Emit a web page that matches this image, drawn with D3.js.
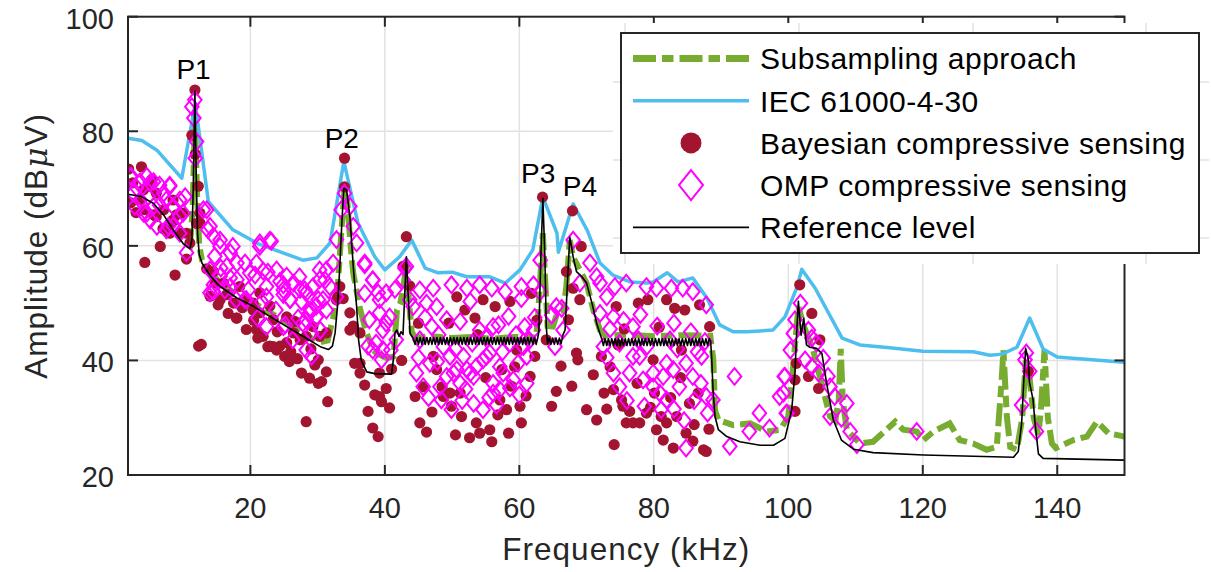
<!DOCTYPE html>
<html>
<head>
<meta charset="utf-8">
<script src="https://cdn.jsdelivr.net/npm/d3@7"></script>
<style>
body { margin: 0; background: #fff; }
svg { font-family: "Liberation Sans", Arial, sans-serif; }
</style>
</head>
<body>
<div id="root"></div>
<script>
const width = 1211;
const height = 572;

const xTicks = [20, 40, 60, 80, 100, 120, 140];
const yTicks = [20, 40, 60, 80, 100];

// IEC 61000-4-30 grouped spectrum
const iecSpectrum = [[1.8,78.8],[3.85,78.4],[6.1,76.7],[9.8,71.8],[11.8,84.9],[13.75,67.7],[17.4,62.8],[21.1,60.4],[27.8,57.5],[29.9,57.9],[31.85,60.5],[33.9,74.7],[36.0,64.0],[38.5,58.1],[40.0,55.8],[42.2,58.1],[44.0,61.0],[46.0,56.1],[47.9,55.3],[50.0,55.4],[52.2,54.6],[55.6,54.6],[57.9,53.5],[60.1,55.8],[62.0,59.3],[63.5,68.5],[65.6,62.2],[65.8,58.9],[68.0,67.3],[70.1,62.7],[72.0,57.0],[73.9,54.9],[76.5,53.7],[79.0,53.5],[79.9,53.7],[82.0,55.3],[83.6,53.7],[85.8,54.4],[87.9,50.9],[89.8,46.2],[91.8,45.0],[93.85,45.0],[97.7,45.3],[99.5,47.6],[101.3,52.8],[102.0,55.9],[104.0,52.6],[108.0,43.9],[110.65,42.7],[115.1,42.2],[120.0,41.6],[127.5,41.5],[130.0,40.9],[131.8,41.1],[134.0,42.3],[135.9,47.4],[137.9,42.0],[140.0,40.6],[142.3,40.4],[150,39.7]];

// Subsampling approach
const subsampling = [[10.3,60.5],[11.0,60],[11.4,66],[11.75,82],[12.1,68],[12.4,60],[12.8,57.5],[14,55.5],[15.5,53.5],[18,51.5],[20.5,50],[23,48.3],[25.5,46.5],[28.4,44.2],[30.4,43.2],[31.5,43.5],[32.4,47.9],[33.0,52.9],[33.5,62],[34.0,70],[34.4,68],[34.9,60],[35.3,55.2],[36.3,49],[37.3,44.7],[38.3,41.8],[38.8,41.2],[40.3,40.4],[41.3,40.7],[41.8,48.8],[42.3,50],[42.8,53],[43.2,57.5],[43.6,50],[44.0,45],[44.5,44.0],[47,44.2],[50,43.9],[53,44.1],[56,43.8],[59,44.1],[62.5,44.0],[62.8,48.2],[63.2,56],[63.5,62.2],[63.8,55],[64.2,46],[65.0,45.9],[65.6,48.2],[66.55,48.8],[67.0,53],[67.5,61],[68.0,58],[69.0,55.8],[70.0,53.5],[71.0,48.8],[72.0,45.3],[72.8,44.3],[76,44.5],[80,44.2],[84,44.4],[88.4,44.3],[88.85,40.1],[89.1,31.3],[89.6,29.6],[91.8,28.7],[94.3,29.0],[96.8,27.6],[98.8,27.9],[100.0,30.2],[100.8,40],[101.5,49.4],[102.3,46],[103.7,41.8],[105.2,34.8],[106.2,30.2],[107.0,29.5],[107.5,33],[107.8,42],[108.1,33],[108.7,27.9],[110.65,25.5],[112.6,25.8],[114.6,27.9],[115.9,29.3],[117.1,27.9],[119.1,27.6],[120.1,26.1],[121.6,27.6],[124.0,29.0],[125.5,26.1],[127.5,25.5],[129.5,24.4],[131.0,24.9],[131.7,36.0],[132.0,41.8],[132.5,30.2],[133.0,24.9],[134.0,24.4],[134.8,30],[135.3,40],[135.8,38],[136.5,30],[137.2,27],[137.6,32],[138.1,41.8],[138.6,30],[139.2,25.5],[139.8,24.7],[142.4,26.1],[144.4,26.7],[145.9,29.3],[147.6,27.3],[150,26.7]];

// Reference level
const referenceLevel = [[1.8,69.0],[3.8,68.6],[5.6,67.4],[7.1,65.4],[8.5,62.8],[10.0,60.4],[11.0,59.5],[11.3,61],[11.5,70],[11.75,87.0],[11.95,72],[12.15,62],[12.4,58.5],[12.8,57.0],[14,54.8],[15.5,52.9],[18,50.9],[20.5,49.4],[23,47.6],[25.4,45.9],[28,44.1],[30.4,42.4],[31.6,41.9],[32.2,42.5],[32.6,44.8],[33.0,50],[33.3,56.4],[33.6,64],[33.9,70.0],[34.3,69.8],[34.8,65.1],[35.3,56.4],[35.8,49.4],[36.1,43.5],[36.5,40.0],[37.3,38.0],[38.5,37.7],[41.0,37.6],[41.3,40.5],[41.5,44.8],[41.8,45.3],[42.1,44.2],[42.4,45.0],[42.7,44.5],[42.9,50],[43.2,58.1],[43.45,52],[43.75,44.7],[44.2,43.9],
  [44.5,42.8],[44.75,44.0],[45,42.8],[45.25,44.0],[45.5,42.8],[45.75,44.0],[46,42.8],[46.25,44.0],[46.5,42.8],[46.75,44.0],[47,42.8],[47.25,44.0],[47.5,42.8],[47.75,44.0],[48,42.8],[48.25,44.0],[48.5,42.8],[48.75,44.0],[49,42.8],[49.25,44.0],[49.5,42.8],[49.75,44.0],[50,42.8],[50.25,44.0],[50.5,42.8],[50.75,44.0],[51,42.8],[51.25,44.0],[51.5,42.8],[51.75,44.0],[52,42.8],[52.25,44.0],[52.5,42.8],[52.75,44.0],[53,42.8],[53.25,44.0],[53.5,42.8],[53.75,44.0],[54,42.8],[54.25,44.0],[54.5,42.8],[54.75,44.0],[55,42.8],[55.25,44.0],[55.5,42.8],[55.75,44.0],[56,42.8],[56.25,44.0],[56.5,42.8],[56.75,44.0],[57,42.8],[57.25,44.0],[57.5,42.8],[57.75,44.0],[58,42.8],[58.25,44.0],[58.5,42.8],[58.75,44.0],[59,42.8],[59.25,44.0],[59.5,42.8],[59.75,44.0],[60,42.8],[60.25,44.0],[60.5,42.8],[60.75,44.0],[61,42.8],[61.25,44.0],[61.5,42.8],[61.75,44.0],[62,42.8],[62.25,44.0],[62.5,42.8],[62.75,44.0],
  [62.9,45],[63.2,58],[63.5,68.3],[63.8,58],[64.0,46],[64.2,42.9],[64.45,43.9],[64.7,42.8],[64.95,43.9],[65.2,42.8],[65.45,43.9],[65.7,42.8],[65.95,43.9],[66.2,42.9],[66.5,44.5],[66.8,45.3],[67.05,51.1],[67.3,57],[67.5,61.5],[67.75,60],[68.0,58.1],[68.5,55.5],[69.3,54.6],[70.0,53.5],[70.8,50.0],[71.5,46.5],[72.0,44.6],
  [72.25,43.8],[72.5,42.6],[72.75,43.8],[73,42.6],[73.25,43.8],[73.5,42.6],[73.75,43.8],[74,42.6],[74.25,43.8],[74.5,42.6],[74.75,43.8],[75,42.6],[75.25,43.8],[75.5,42.6],[75.75,43.8],[76,42.6],[76.25,43.8],[76.5,42.6],[76.75,43.8],[77,42.6],[77.25,43.8],[77.5,42.6],[77.75,43.8],[78,42.6],[78.25,43.8],[78.5,42.6],[78.75,43.8],[79,42.6],[79.25,43.8],[79.5,42.6],[79.75,43.8],[80,42.6],[80.25,43.8],[80.5,42.6],[80.75,43.8],[81,42.6],[81.25,43.8],[81.5,42.6],[81.75,43.8],[82,42.6],[82.25,43.8],[82.5,42.6],[82.75,43.8],[83,42.6],[83.25,43.8],[83.5,42.6],[83.75,43.8],[84,42.6],[84.25,43.8],[84.5,42.6],[84.75,43.8],[85,42.6],[85.25,43.8],[85.5,42.6],[85.75,43.8],[86,42.6],[86.25,43.8],[86.5,42.6],[86.75,43.8],[87,42.6],[87.25,43.8],[87.5,42.6],[87.75,43.8],[88,42.6],[88.25,43.8],
  [88.45,43.3],[88.6,40.6],[88.8,35],[89.1,30.2],[89.6,27.9],[90.85,26.7],[92.8,25.8],[95.8,25.2],[97.8,25.2],[99.5,26.4],[100.5,31.3],[101.0,38],[101.25,45],[101.5,50.3],[101.9,44.4],[102.3,47.4],[102.7,42.7],[103.2,42.3],[104.2,42.1],[105.0,41.2],[105.7,36.0],[106.7,29.6],[107.9,26.1],[109.7,24.5],[112.6,23.9],[120.1,23.5],[133.5,23.1],[134.2,24.1],[134.7,29.0],[135.0,36],[135.3,42.1],[135.7,40.1],[135.85,36.3],[136.2,34.3],[136.4,33.1],[136.7,29.0],[137.2,23.7],[137.9,22.9],[150,22.6]];

// Bayesian compressive sensing estimates
const bayesianCS = [[1.9,73.4],[3.8,73.8],[5.3,71.5],[4.1,69.8],[6.0,69.2],[8.5,68.0],[6.0,65.1],[8.5,64.5],[10.0,65.7],[10.5,62.2],[12.0,63.9],[11.3,79.3],[11.75,87.2],[12.5,65.7],[5.1,70.4],[3.6,68.1],[7.1,66.3],[4.3,66.3],[5.6,65.4],[9.0,65.4],[8.3,64.0],[9.5,62.2],[8.0,62.2],[6.6,59.9],[4.3,57.1],[8.8,54.9],[10.5,57.7],[12.25,70.4],[12.5,64.0],[12.3,42.5],[12.7,42.8],[2.5,71.0],[7.0,63.0],[11.0,60.5],[11.8,76.0],[2.2,67.5],[3.0,65.8],
  [14.0,51.2],[15.5,50.6],[17.5,50.0],[18.4,52.9],[19.4,50.6],[20.4,50.0],[21.4,48.3],[22.9,49.5],[23.4,47.1],[21.4,51.8],[18.0,47.4],[19.4,45.4],[20.9,45.4],[21.9,44.2],[22.9,42.5],[24.4,42.5],[25.4,43.1],[26.4,44.8],[27.4,43.6],[28.3,44.2],[29.3,45.9],[30.3,44.2],[31.3,44.8],[32.8,50.6],[33.3,52.9],[15.2,49.7],[16.7,48.2],[17.9,47.4],[21.1,43.9],[22.6,42.4],[23.4,42.4],[23.9,41.8],[20.4,48.8],[25.1,40.7],[25.8,39.8],[25.4,47.6],[26.6,46.8],[27.6,37.8],[28.8,36.9],[28.3,29.3],[30.1,36.0],[30.6,36.3],[31.3,38.0],[31.5,32.8],[29.6,39.2],[30.1,40.1],[13.5,56],[14.5,55.5],[16,53.5],
  [14.8,53.5],[16.5,51.5],[18.8,49.2],[20.5,47.0],[24.0,45.0],[26.0,41.5],[27.0,40.3],[29.0,42.0],
  [34.0,75.3],[34.0,70.3],[34.8,48.3],[35.3,46.0],[36.3,44.8],[33.0,51.1],[33.8,50.8],[34.8,45.3],[35.5,39.5],[36.3,39.5],[36.3,37.8],[37.0,35.7],[37.5,31.1],[38.2,28.2],[39.0,26.7],[38.5,34.0],[39.2,33.7],[39.5,32.8],[40.2,35.1],[40.7,31.7],[39.2,37.8],[43.2,61.6],[42.7,56.4],[43.7,53.0],[41.0,38.5],[42.5,40],
  [44.5,33.7],[45.2,29.1],[45.7,35.4],[47.2,40.7],[47.7,38.4],[48.5,35.4],[48.7,33.7],[49.7,34.3],[49.9,32.0],[51.2,34.3],[51.4,30.2],[50.7,51.1],[51.9,48.8],[53.4,47.4],[54.6,50.6],[56.4,49.4],[58.6,50.3],[53.6,29.1],[54.1,27.3],[55.6,27.9],[55.9,25.8],[57.1,33.1],[57.4,38.4],[58.1,31.4],[58.4,27.3],[59.3,38.9],[59.6,41.8],[60.1,32.0],[60.3,29.1],[61.6,37.2],[61.8,51.7],[62.3,40.7],[63.45,68.5],
  [46.2,27.5],[47.0,31.0],[50.5,27.0],[52.6,26.5],[55.0,37.0],[56.8,30.5],[58.8,35.5],[61.0,33.8],[62.6,47.0],[45.0,46.5],[49.5,46.5],[53.8,44.5],
  [64.0,43.6],[64.8,32.0],[65.5,34.6],[67.0,55.5],[67.3,47.1],[67.9,66.1],[68.0,52.6],[68.5,41.3],[68.7,40.1],[69.0,50.6],[69.2,59.9],[70.0,31.4],[71.5,29.6],[72.2,40.7],[72.6,34.3],[73.5,38.9],[74.0,34.9],[74.1,25.3],[74.4,49.4],[74.7,42.7],[75.2,33.1],[75.4,32.0],[75.9,29.1],[76.4,31.1],[76.9,29.1],[77.7,50.0],[77.9,29.1],[78.9,30.8],[79.1,50.6],[79.9,40.1],[80.1,34.3],[80.4,27.9],[81.1,30.2],[81.4,26.1],[81.9,50.6],[81.9,29.1],[82.9,24.7],[83.1,49.1],[83.4,30.2],[84.1,41.8],[84.6,48.8],[84.8,27.3],[85.3,32.5],[85.8,25.9],[86.6,34.3],[86.8,49.7],[87.4,24.4],[87.8,24.1],[88.3,45.9],
  [66.2,39.0],[67.8,35.5],[71.0,37.5],[73.0,31.5],[77.5,36.0],[79.5,31.8],[82.5,33.5],[84.0,37.0],[86.0,28.8],[88.2,28.0],[75.6,45.5],[80.8,45.8],
  [101.7,53.2],[103.5,48.2],[104.7,43.6],[101.2,39.5],[103.0,37.2],[104.5,35.1],[101.0,31.1],[101.0,36.6],[135.7,38.1]];

// OMP compressive sensing estimates
const ompCS = [[2.3,72.1],[3.6,71.2],[4.6,72.1],[5.6,71.2],[6.5,70.6],[8.0,70.6],[2.6,69.2],[3.6,68.0],[4.8,68.6],[5.6,66.9],[6.5,67.1],[7.5,68.0],[8.5,66.9],[9.5,68.0],[10.0,65.7],[4.1,65.7],[5.1,64.5],[6.1,63.4],[7.5,62.8],[8.5,63.4],[9.5,62.2],[10.3,68.6],[13.0,66.3],[13.7,62.8],[15.5,61.0],[17.4,59.9],[21.4,60.5],[22.9,61.0],[11.74,85.5],[11.6,82.3],[12.0,78.2],
  [2.1,72.1],[3.1,70.1],[5.1,71.0],[8.0,70.4],[7.1,69.2],[2.8,66.9],[4.6,65.7],[7.8,63.4],[9.5,65.2],[10.5,58.8],[11.3,84.3],[11.8,75.3],[13.5,66.3],[14.0,63.4],[14.5,61.7],[15.5,59.9],[14.7,58.2],[17.0,58.8],[18.0,57.0],[19.2,57.0],[14.0,51.8],[15.5,54.7],[16.5,56.4],[17.0,52.9],[18.0,54.1],[19.9,55.3],[21.4,59.9],[23.1,60.8],[20.9,57.0],[21.9,55.6],[22.4,52.9],[23.9,55.8],[24.4,53.8],[25.4,54.7],[26.4,53.5],[27.4,52.4],[25.9,50.6],[24.9,51.5],[27.6,50.3],[28.3,51.8],[29.3,52.9],[30.3,54.1],[31.3,55.8],[31.8,52.9],[30.8,50.6],[29.8,49.5],[28.8,48.3],[28.3,47.1],[29.1,44.8],[32.8,61.1],[33.5,66.3],[34.0,69.2],[34.8,66.9],[35.3,63.4],[35.8,60.5],[37.0,57.0],[38.2,54.1],[39.0,51.8],[40.2,51.8],[41.5,52.4],[42.7,54.1],[43.7,50.6],[43.2,56.4],[39.2,48.3],[40.2,46.5],[37.5,42.5],[39.7,41.9],
  [14.0,55.8],[14.5,53.2],[15.6,56.1],[16.2,52.3],[17.0,54.4],[17.9,50.6],[19.7,52.3],[20.7,54.9],[21.7,50.2],[22.6,55.4],[23.8,48.8],[24.9,53.2],[25.9,50.6],[27.1,47.4],[28.1,52.3],[28.9,48.8],[30.1,50.6],[31.1,54.0],[19.2,50.6],[21.1,47.4],[25.2,46.2],[30.4,45.3],
  [14.5,52.0],[19.4,50.6],[22.4,51.1],[24.9,52.3],[27.3,54.6],[30.3,55.8],[32.3,57.0],[29.1,40.7],[28.3,41.8],[27.8,46.5],[29.8,47.6],[31.3,48.8],[26.3,43.6],[24.9,45.9],[22.4,45.9],[32.8,51.1],[37.0,56.7],[38.2,54.0],[37.0,51.7],[39.2,50.6],[37.7,47.1],[39.7,45.3],[38.7,43.0],[38.2,41.8],[39.5,40.1],[40.9,41.8],[41.7,43.6],[40.7,47.6],
  [43.0,56.1],[45.2,52.3],[47.2,52.6],[49.9,53.2],[52.2,52.6],[54.1,53.2],[55.9,52.6],[57.9,52.0],[60.3,52.9],[62.1,53.2],[44.2,49.4],[46.2,50.0],[47.7,49.4],[49.2,47.1],[51.2,46.8],[52.7,50.3],[54.1,45.3],[56.1,45.9],[56.9,46.2],[58.4,47.7],[60.3,50.8],[60.8,45.9],[62.1,45.3],[45.2,43.6],[47.0,45.9],[48.7,42.4],[49.7,40.7],[50.7,38.4],[51.7,40.7],[52.2,38.4],[53.2,37.2],[54.6,40.1],[55.6,41.3],[57.1,38.9],[58.6,43.0],[60.6,42.4],[61.1,40.7],[44.7,37.8],[45.7,35.4],[46.7,39.5],[48.2,35.4],[49.2,37.2],[50.2,37.8],[51.2,36.0],[52.7,37.8],[53.6,38.9],[55.1,40.7],[56.1,36.0],[57.1,34.9],[57.6,37.8],[59.1,36.6],[61.1,36.0],[48.4,33.1],[49.9,31.4],[53.2,32.5],[54.6,31.4],[56.1,34.3],[58.6,35.2],
  [46.0,47.5],[48.0,44.5],[50.5,42.0],[53.0,43.0],[55.0,44.0],[57.5,41.5],[59.5,44.5],[61.5,43.5],[46.5,33.5],[51.5,33.0],[55.5,33.5],[59.8,39.5],[47.8,39.8],[52.0,35.0],[56.6,32.2],[60.0,34.0],[45.0,40.5],[62.3,47.5],
  [63.1,52.0],[63.1,57.5],[64.8,47.9],[65.5,49.4],[66.3,49.1],[65.3,42.4],[66.5,45.3],[68.0,61.0],[69.0,53.5],[70.5,57.0],[71.5,54.6],[72.0,53.5],[72.0,48.2],[73.0,51.1],[74.0,47.6],[74.2,52.9],[75.9,53.5],[78.9,52.9],[80.4,52.6],[82.6,52.6],[84.3,52.6],[85.8,52.0],[87.8,49.7],[72.5,42.4],[74.9,43.0],[76.9,45.9],[77.7,43.6],[76.9,40.7],[77.9,40.7],[74.0,37.8],[74.9,35.4],[76.4,37.8],[78.4,36.6],[79.9,37.8],[81.4,37.2],[81.9,39.5],[82.9,38.4],[83.8,35.4],[84.8,39.5],[85.8,37.2],[79.9,35.4],[80.9,34.3],[81.9,33.1],[81.1,31.4],[82.4,43.6],[87.1,40.7],[87.6,43.3],[87.8,33.7],[88.8,33.1],[88.0,30.8],[92.0,37.2],[94.2,27.6],[91.3,25.0],[84.8,24.7],
  [73.5,45.5],[75.5,47.0],[78.0,48.0],[80.5,46.0],[83.0,46.5],[85.5,45.0],[86.5,41.5],[79.0,42.5],[83.5,42.0],[76.0,33.0],[78.6,32.0],[83.0,31.5],[86.0,33.0],[84.5,29.5],[87.0,36.0],[73.0,40.5],
  [95.7,30.8],[97.2,28.2],[99.4,37.2],[98.7,33.7],[99.7,30.8],
  [101.8,50.0],[101.0,47.1],[100.75,44.7],[103.0,45.3],[103.5,43.9],[104.2,43.0],[105.2,40.4],[100.3,41.8],[99.5,37.2],[99.3,34.3],[99.8,30.8],[102.5,40.1],[103.5,38.9],[104.5,37.8],[105.9,37.2],[106.2,35.4],[106.9,33.7],[108.7,32.5],[106.2,30.2],[107.9,29.9],[109.2,27.6],[110.2,25.3],[119.1,27.6],[135.4,41.3],[135.2,40.1],[135.9,38.1],[134.7,32.2],[136.9,27.6]];

const peakLabels = [
    {name: 'P1', f: 11.55, a: 89.1},
    {name: 'P2', f: 33.6, a: 77.1},
    {name: 'P3', f: 62.8, a: 71.0},
    {name: 'P4', f: 69.0, a: 68.7}
];

const legendItems = ['Subsampling approach', 'IEC 61000-4-30', 'Bayesian compressive sensing', 'OMP compressive sensing', 'Reference level'];

const GREEN = '#77AC30';
const BLUE = '#4DBEEE';
const RED = '#A2142F';
const MAGENTA = '#FF00FF';
const AXIS = '#262626';
const GRID = '#e2e2e2';

const plot = {left: 128, right: 1124.5, top: 16.7, bottom: 475};

const x = d3.scaleLinear().domain([1.8, 150]).range([plot.left, plot.right]);
const y = d3.scaleLinear().domain([20, 100]).range([plot.bottom, plot.top]);

const svg = d3.select('#root')
    .append('svg')
    .attr('width', width)
    .attr('height', height);

svg.append('defs').append('clipPath')
    .attr('id', 'plot-clip')
    .append('rect')
    .attr('x', plot.left)
    .attr('y', plot.top)
    .attr('width', plot.right - plot.left)
    .attr('height', plot.bottom - plot.top);

// grid
const grid = svg.append('g');
grid.selectAll('.gx')
    .data(xTicks)
    .join('line')
    .attr('x1', d => x(d)).attr('x2', d => x(d))
    .attr('y1', plot.top).attr('y2', plot.bottom)
    .attr('stroke', GRID).attr('stroke-width', 1.5);
grid.selectAll('.gy')
    .data(yTicks.slice(1, -1))
    .join('line')
    .attr('y1', d => y(d)).attr('y2', d => y(d))
    .attr('x1', plot.left).attr('x2', plot.right)
    .attr('stroke', GRID).attr('stroke-width', 1.5);

const line = d3.line().x(d => x(d[0])).y(d => y(d[1]));
const data = svg.append('g').attr('clip-path', 'url(#plot-clip)');

data.append('path')
    .datum(subsampling)
    .attr('d', line)
    .attr('fill', 'none')
    .attr('stroke', GREEN)
    .attr('stroke-width', 6)
    .attr('stroke-dasharray', '23,6,11.5,6');

data.append('path')
    .datum(iecSpectrum)
    .attr('d', line)
    .attr('fill', 'none')
    .attr('stroke', BLUE)
    .attr('stroke-width', 3.5)
    .attr('stroke-linejoin', 'round');

data.selectAll('.bcs')
    .data(bayesianCS)
    .join('circle')
    .attr('cx', d => x(d[0]))
    .attr('cy', d => y(d[1]))
    .attr('r', 5.6)
    .attr('fill', RED);

const diamond = (w, h) => `M0,${-h}L${w},0L0,${h}L${-w},0Z`;
data.selectAll('.omp')
    .data(ompCS)
    .join('path')
    .attr('transform', d => `translate(${x(d[0])},${y(d[1])})`)
    .attr('d', diamond(6.8, 8.3))
    .attr('fill', 'none')
    .attr('stroke', MAGENTA)
    .attr('stroke-width', 2);

data.append('path')
    .datum(referenceLevel)
    .attr('d', line)
    .attr('fill', 'none')
    .attr('stroke', '#000')
    .attr('stroke-width', 1.6)
    .attr('stroke-linejoin', 'round');

// peak labels
svg.selectAll('.peak')
    .data(peakLabels)
    .join('text')
    .attr('x', d => x(d.f))
    .attr('y', d => y(d.a))
    .attr('text-anchor', 'middle')
    .attr('font-size', 28)
    .attr('fill', '#000')
    .text(d => d.name);

// axes box and ticks
const axes = svg.append('g').attr('stroke', AXIS).attr('stroke-width', 2).attr('fill', 'none');
axes.append('rect')
    .attr('x', plot.left).attr('y', plot.top)
    .attr('width', plot.right - plot.left).attr('height', plot.bottom - plot.top);
xTicks.forEach(t => {
    axes.append('line').attr('x1', x(t)).attr('x2', x(t)).attr('y1', plot.bottom).attr('y2', plot.bottom - 10);
    axes.append('line').attr('x1', x(t)).attr('x2', x(t)).attr('y1', plot.top).attr('y2', plot.top + 10);
});
yTicks.forEach(t => {
    axes.append('line').attr('y1', y(t)).attr('y2', y(t)).attr('x1', plot.left).attr('x2', plot.left + 10);
    axes.append('line').attr('y1', y(t)).attr('y2', y(t)).attr('x1', plot.right).attr('x2', plot.right - 10);
});

svg.selectAll('.xt')
    .data(xTicks)
    .join('text')
    .attr('x', d => x(d))
    .attr('y', plot.bottom + 43)
    .attr('text-anchor', 'middle')
    .attr('font-size', 29)
    .attr('fill', AXIS)
    .text(d => d);
svg.selectAll('.yt')
    .data(yTicks)
    .join('text')
    .attr('x', plot.left - 14)
    .attr('y', d => y(d) + 12)
    .attr('text-anchor', 'end')
    .attr('font-size', 29)
    .attr('fill', AXIS)
    .text(d => d);

svg.append('text')
    .attr('x', (plot.left + plot.right) / 2)
    .attr('y', 560)
    .attr('text-anchor', 'middle')
    .attr('font-size', 31.5)
    .attr('letter-spacing', 1)
    .attr('fill', AXIS)
    .text('Frequency (kHz)');

const ylab = svg.append('text')
    .attr('transform', `translate(47,${(plot.top + plot.bottom) / 2}) rotate(-90)`)
    .attr('text-anchor', 'middle')
    .attr('font-size', 31.5)
    .attr('letter-spacing', 1)
    .attr('fill', AXIS);
ylab.append('tspan').text('Amplitude (dB');
ylab.append('tspan').attr('font-style', 'italic').attr('font-family', '"DejaVu Serif", serif').text('\u03bc');
ylab.append('tspan').text('V)');

// white panel behind the legend, with stray grid stubs
const panel = svg.append('g');
panel.append('rect')
    .attr('x', 613).attr('y', 23).attr('width', 597).attr('height', 241)
    .attr('fill', '#fff');
[625, 799, 973, 1146].forEach(px => {
    panel.append('line').attr('x1', px).attr('x2', px).attr('y1', 23).attr('y2', 33).attr('stroke', GRID).attr('stroke-width', 1.5);
    panel.append('line').attr('x1', px).attr('x2', px).attr('y1', 253).attr('y2', 264).attr('stroke', GRID).attr('stroke-width', 1.5);
});
[82, 160, 238].forEach(py => {
    panel.append('line').attr('y1', py).attr('y2', py).attr('x1', 613).attr('x2', 621).attr('stroke', GRID).attr('stroke-width', 1.5);
    panel.append('line').attr('y1', py).attr('y2', py).attr('x1', 1199).attr('x2', 1209).attr('stroke', GRID).attr('stroke-width', 1.5);
});

// legend
const legend = svg.append('g');
legend.append('rect')
    .attr('x', 621).attr('y', 33).attr('width', 578).attr('height', 220)
    .attr('fill', '#fff').attr('stroke', AXIS).attr('stroke-width', 2);
const rowY = i => 58.5 + i * 42.2;
legend.append('line').attr('x1', 633).attr('x2', 749).attr('y1', rowY(0)).attr('y2', rowY(0))
    .attr('stroke', GREEN).attr('stroke-width', 7).attr('stroke-dasharray', '23,6,11.5,6');
legend.append('line').attr('x1', 633).attr('x2', 749).attr('y1', rowY(1)).attr('y2', rowY(1))
    .attr('stroke', BLUE).attr('stroke-width', 3.5);
legend.append('circle').attr('cx', 691).attr('cy', rowY(2)).attr('r', 10.5).attr('fill', RED);
legend.append('path').attr('transform', `translate(691,${rowY(3)})`).attr('d', diamond(12, 15))
    .attr('fill', 'none').attr('stroke', MAGENTA).attr('stroke-width', 2);
legend.append('line').attr('x1', 633).attr('x2', 749).attr('y1', rowY(4)).attr('y2', rowY(4))
    .attr('stroke', '#000').attr('stroke-width', 1.8);
legend.selectAll('.lt')
    .data(legendItems)
    .join('text')
    .attr('x', 760)
    .attr('y', (d, i) => rowY(i) + 10.8)
    .attr('font-size', 30)
    .attr('letter-spacing', 0.5)
    .attr('fill', '#000')
    .text(d => d);
</script>
</body>
</html>
